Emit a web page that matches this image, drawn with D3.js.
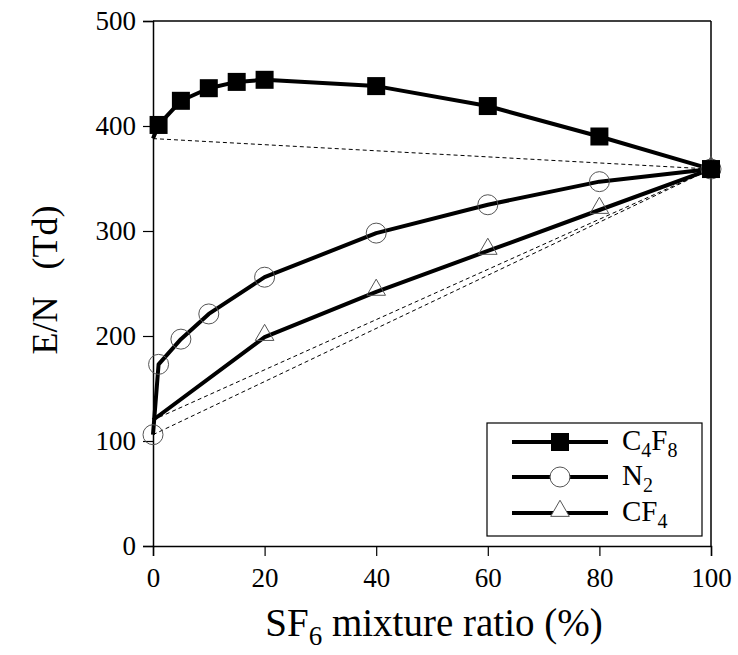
<!DOCTYPE html>
<html>
<head>
<meta charset="utf-8">
<script src="https://cdn.jsdelivr.net/npm/d3@7"></script>
<style>
  html, body { margin: 0; padding: 0; background: #fff; }
  svg { display: block; font-family: "Liberation Serif", "Times New Roman", serif; }
</style>
</head>
<body>
<svg id="chart" width="738" height="655"></svg>
<script>
// ---- Data ----
const xTicks = [0, 20, 40, 60, 80, 100];
const yTicks = [0, 100, 200, 300, 400, 500];

const c4f8X = [0, 1, 5, 10, 15, 20, 40, 60, 80, 100];
const c4f8Y = [388, 401, 424, 436, 442, 444, 438, 419, 390, 359];
const c4f8Marked = [false, true, true, true, true, true, true, true, true, true];

const n2X = [0, 1, 5, 10, 20, 40, 60, 80, 100];
const n2Y = [106, 173, 197, 221, 256, 298, 325, 347, 359];

const cf4X = [0, 20, 40, 60, 80, 100];
const cf4Y = [120, 199, 242, 281, 320, 359];
const cf4Marked = [false, true, true, true, true, true];

const legendLabels = [["C", "4", "F", "8"], ["N", "2"], ["CF", "4"]];

// ---- Layout ----
const svg = d3.select("#chart");
const x = d3.scaleLinear().domain([0, 100]).range([153, 711]);
const y = d3.scaleLinear().domain([0, 500]).range([546, 21]);

// frame (top & right)
svg.append("line").attr("x1", x(0)).attr("x2", x(100)).attr("y1", y(500)).attr("y2", y(500))
  .attr("stroke", "#000").attr("stroke-width", 1.5);
svg.append("line").attr("x1", x(100)).attr("x2", x(100)).attr("y1", y(500)).attr("y2", y(0))
  .attr("stroke", "#000").attr("stroke-width", 1.5);

// axes
const xAxis = d3.axisBottom(x).tickValues(xTicks).tickSize(10).tickPadding(8).tickFormat(d3.format("d"));
const yAxis = d3.axisLeft(y).tickValues(yTicks).tickSize(10).tickPadding(7).tickFormat(d3.format("d"));

const gx = svg.append("g").attr("transform", `translate(0,${y(0)})`).call(xAxis);
const gy = svg.append("g").attr("transform", `translate(${x(0)},0)`).call(yAxis);
[gx, gy].forEach(g => {
  g.select(".domain").attr("stroke", "#000").attr("stroke-width", 1.5);
  g.selectAll(".tick line").attr("stroke", "#000").attr("stroke-width", 1.2);
  g.selectAll(".tick text").attr("fill", "#000").style("font-size", "27px")
    .style("font-family", '"Liberation Serif", serif');
});
gx.selectAll(".tick text").attr("dy", "0.85em");

// axis titles
svg.append("text")
  .attr("transform", `translate(57,280) rotate(-90)`)
  .attr("text-anchor", "middle")
  .style("font-size", "36px")
  .style("white-space", "pre")
  .attr("xml:space", "preserve")
  .text("E/N   (Td)");

const xt = svg.append("text")
  .attr("x", 434).attr("y", 636)
  .attr("text-anchor", "middle")
  .style("font-size", "39px");
xt.append("tspan").text("SF");
xt.append("tspan").attr("dy", 9).style("font-size", "27px").text("6");
xt.append("tspan").attr("dy", -9).text(" mixture ratio (%)");

// dashed ideal-mixing lines (first -> last value of each series)
const dashed = [
  [c4f8X[0], c4f8Y[0], c4f8X[c4f8X.length - 1], c4f8Y[c4f8Y.length - 1]],
  [cf4X[0], cf4Y[0], cf4X[cf4X.length - 1], cf4Y[cf4Y.length - 1]],
  [n2X[0], n2Y[0], n2X[n2X.length - 1], n2Y[n2Y.length - 1]]
];
svg.selectAll(".ideal").data(dashed).enter().append("line")
  .attr("x1", d => x(d[0])).attr("y1", d => y(d[1]))
  .attr("x2", d => x(d[2])).attr("y2", d => y(d[3]))
  .attr("stroke", "#000").attr("stroke-width", 1).attr("stroke-dasharray", "4,3");

const line = d3.line().x(d => x(d[0])).y(d => y(d[1]));
const toPts = (xs, ys) => xs.map((v, i) => [v, ys[i]]);

const series = [
  { pts: toPts(cf4X, cf4Y), marked: cf4Marked, type: "tri" },
  { pts: toPts(n2X, n2Y), marked: n2X.map(() => true), type: "circ" },
  { pts: toPts(c4f8X, c4f8Y), marked: c4f8Marked, type: "sq" }
];

series.forEach(s => {
  svg.append("path").datum(s.pts).attr("d", line)
    .attr("fill", "none").attr("stroke", "#000").attr("stroke-width", 4)
    .attr("stroke-linejoin", "round");
});

function marker(g, type, cx, cy, legend) {
  if (type === "sq") {
    g.append("rect").attr("x", cx - 9).attr("y", cy - 9).attr("width", 18).attr("height", 18).attr("fill", "#000");
  } else if (type === "circ") {
    g.append("circle").attr("cx", cx).attr("cy", cy).attr("r", 10)
      .attr("fill", legend ? "#fff" : "none").attr("stroke", "#555").attr("stroke-width", 1);
  } else {
    const s = d3.symbol().type(d3.symbolTriangle).size(150);
    g.append("path").attr("d", s).attr("transform", `translate(${cx},${cy - 2})`)
      .attr("fill", legend ? "#fff" : "none").attr("stroke", "#555").attr("stroke-width", 1);
  }
}

series.forEach(s => {
  s.pts.forEach((p, i) => { if (s.marked[i]) marker(svg, s.type, x(p[0]), y(p[1]), false); });
});

// legend
const lg = svg.append("g");
lg.append("rect").attr("x", 487).attr("y", 423).attr("width", 215).attr("height", 113)
  .attr("fill", "#fff").attr("stroke", "#000").attr("stroke-width", 1.2);
const legTypes = ["sq", "circ", "tri"];
const legY = [442, 477, 513];
legTypes.forEach((t, i) => {
  lg.append("line").attr("x1", 512).attr("x2", 608).attr("y1", legY[i]).attr("y2", legY[i])
    .attr("stroke", "#000").attr("stroke-width", 4);
  marker(lg, t, 560, legY[i], true);
  const tx = lg.append("text").attr("x", 622).attr("y", legY[i] + 8).style("font-size", "29px");
  legendLabels[i].forEach((part, j) => {
    const sub = j % 2 === 1;
    tx.append("tspan").attr("dy", j === 0 ? 0 : (sub ? 7 : -7))
      .style("font-size", sub ? "20px" : "29px").text(part);
  });
});
</script>
</body>
</html>
